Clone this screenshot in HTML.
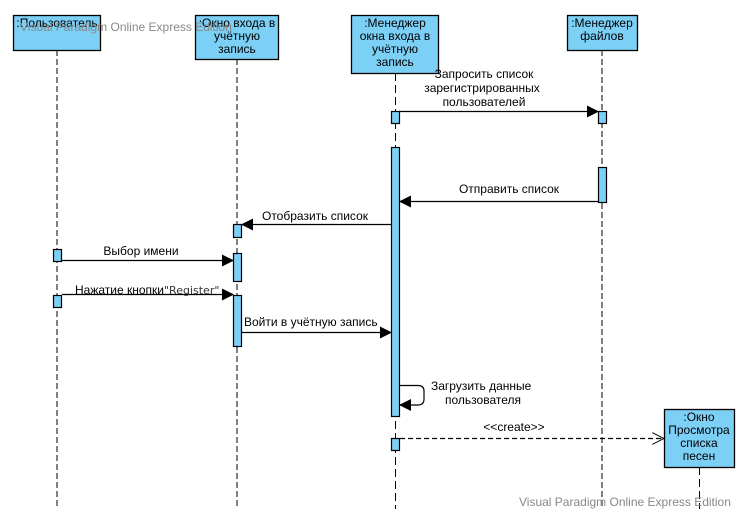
<!DOCTYPE html>
<html><head><meta charset="utf-8"><style>
html,body{margin:0;padding:0;background:#fff;width:752px;height:529px;overflow:hidden}
svg{display:block}
text{font-family:"Liberation Sans","DejaVu Sans",sans-serif;font-size:12px;fill:#000}
</style></head><body>
<svg width="752" height="529" viewBox="0 0 752 529" xmlns="http://www.w3.org/2000/svg">
<defs>
<marker id="f" markerWidth="12" markerHeight="12" refX="11" refY="6" orient="auto" markerUnits="userSpaceOnUse"><path d="M0,0 L12,6 L0,12 Z" fill="#000"/></marker>
<marker id="o" markerWidth="12" markerHeight="12" refX="12" refY="6" orient="auto" markerUnits="userSpaceOnUse"><path d="M0,0 L12,6 L0,12" fill="none" stroke="#000"/></marker>
</defs>
<!-- lifelines -->
<g stroke="#808080" stroke-width="2" stroke-dasharray="6,3">
<line x1="57" y1="50" x2="57" y2="509"/>
<line x1="237" y1="59" x2="237" y2="508"/>
<line x1="602" y1="50" x2="602" y2="509"/>
</g>
<g stroke="#000" stroke-width="1" stroke-dasharray="8,4">
<line x1="395.5" y1="73" x2="395.5" y2="509"/>
<line x1="699.5" y1="467" x2="699.5" y2="509"/>
</g>
<!-- boxes -->
<g fill="#7ccff5" stroke="#000" stroke-width="1.3">
<rect x="13.5" y="15.5" width="87" height="35"/>
<rect x="195.5" y="15.5" width="83" height="44"/>
<rect x="351.5" y="15.5" width="87" height="58"/>
<rect x="567.5" y="15.5" width="70" height="35"/>
<rect x="664.5" y="409.5" width="70" height="58"/>
</g>
<g text-anchor="middle">
<text x="57" y="27">:Пользователь</text>
<text x="237" y="27">:Окно входа в</text><text x="237" y="40">учётную</text><text x="237" y="53">запись</text>
<text x="395" y="27">:Менеджер</text><text x="395" y="40">окна входа в</text><text x="395" y="53">учётную</text><text x="395" y="66">запись</text>
<text x="602" y="27">:Менеджер</text><text x="602" y="40">файлов</text>
<text x="699" y="421">:Окно</text><text x="699" y="434">Просмотра</text><text x="699" y="447">списка</text><text x="699" y="460">песен</text>
</g>
<!-- activations -->
<g fill="#7ccff5" stroke="#000" stroke-width="1.2">
<rect x="391.5" y="111.5" width="8" height="12"/>
<rect x="598.5" y="111.5" width="8" height="12"/>
<rect x="391.5" y="147.5" width="8" height="269"/>
<rect x="598.5" y="167.5" width="8" height="35"/>
<rect x="233.5" y="224.5" width="8" height="13"/>
<rect x="53.5" y="249.5" width="8" height="12"/>
<rect x="233.5" y="253.5" width="8" height="28"/>
<rect x="53.5" y="295.5" width="8" height="12"/>
<rect x="233.5" y="295.5" width="8" height="51"/>
<rect x="391.5" y="438.5" width="8" height="12"/>
</g>
<!-- messages -->
<g stroke="#000" stroke-width="1.2" fill="none">
<line x1="399" y1="111.5" x2="598" y2="111.5" marker-end="url(#f)"/>
<line x1="598" y1="201.5" x2="400" y2="201.5" marker-end="url(#f)"/>
<line x1="391" y1="224.5" x2="242" y2="224.5" marker-end="url(#f)"/>
<line x1="62" y1="260.5" x2="233" y2="260.5" marker-end="url(#f)"/>
<line x1="62" y1="294.5" x2="233" y2="294.5" marker-end="url(#f)"/>
<line x1="242" y1="332.5" x2="391" y2="332.5" marker-end="url(#f)"/>
<path d="M400,385.5 H418 Q424,385.5 424,391 V399 Q424,405 418,405 H400" marker-end="url(#f)"/>
<line x1="400" y1="438.5" x2="664" y2="438.5" stroke-dasharray="5,3" marker-end="url(#o)"/>
</g>
<g text-anchor="middle">
<text x="484" y="78">Запросить список</text>
<text x="482" y="92">зарегистрированных</text>
<text x="484" y="106">пользователей</text>
<text x="509" y="193">Отправить список</text>
<text x="315" y="220">Отобразить список</text>
<text x="141" y="255">Выбор имени</text>
<text x="514" y="431">&lt;&lt;create&gt;&gt;</text>
</g>
<text x="75" y="294">Нажатие кнопки<tspan fill="#333" font-family="DejaVu Sans, sans-serif" font-size="11">"Register"</tspan></text>
<text x="244" y="326">Войти в учётную запись</text>
<text x="431" y="390">Загрузить данные</text>
<text x="445" y="404">пользователя</text>
<text x="20" y="31" font-size="13" style="fill:#888">Visual Paradigm Online Express Edition</text>
<text x="519" y="506" font-size="12.5" style="fill:#888">Visual Paradigm Online Express Edition</text>
</svg>
</body></html>
